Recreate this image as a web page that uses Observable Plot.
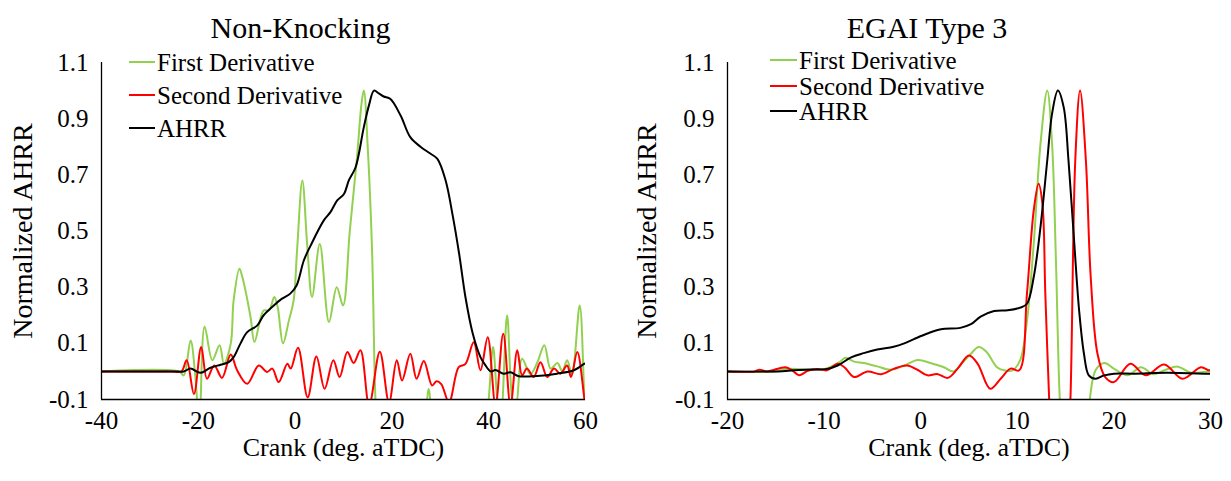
<!DOCTYPE html>
<html>
<head>
<meta charset="utf-8">
<script src="https://cdn.jsdelivr.net/npm/d3@7"></script>
<script src="https://cdn.jsdelivr.net/npm/@observablehq/plot@0.6"></script>
<style>
  html, body { margin: 0; padding: 0; background: #fff; }
  #wrap { position: relative; width: 1231px; height: 481px; display: flex; font-family: "Liberation Serif", "Times New Roman", serif; }
  .leg { position: absolute; height: 25px; display: flex; align-items: center; font-size: 25px; line-height: 25px; color: #000; white-space: nowrap; }
  .leg span.sw { display: inline-block; height: 2px; margin-right: 2px; }
</style>
</head>
<body>
<div id="wrap"></div>
<script>
// ---------- Data ----------
const seriesNames = ["First Derivative", "Second Derivative", "AHRR"];
const yTicks = [-0.1, 0.1, 0.3, 0.5, 0.7, 0.9, 1.1];
const xLabel = "Crank (deg. aTDC)";
const yLabel = "Normalized AHRR";

// Non-Knocking panel
const nkTicks = [-40, -20, 0, 20, 40, 60];
const nkD1X = [-40, -24, -23.0, -21.6, -20.6, -19.8, -18.7, -17.1, -15.6, -14.7, -13.3, -12.7, -11.5, -10.9, -9.2, -8.4, -6.5, -5.4, -4.3, -3.6, -2.5, -1.3, -0.3, 0.4, 1.5, 2.5, 3.5, 5.1, 7.0, 8.6, 9.9, 11.3, 12.8, 13.7, 14.2, 15.0, 15.9, 16.6, 17.3, 22, 26.6, 27.6, 28.6, 33, 38.8, 40.0, 40.9, 41.8, 42.5, 43.8, 44.9, 45.6, 46.9, 48.6, 50.0, 51.5, 52.8, 54.2, 55.2, 56.2, 57.2, 58.8, 59.8, 60.3];
const nkD1Y = [0, 0, -0.014, 0.11, -0.02, -0.2, 0.16, 0.04, 0.093, 0.027, 0.099, 0.253, 0.366, 0.336, 0.193, 0.105, 0.217, 0.217, 0.265, 0.229, 0.10, 0.18, 0.253, 0.43, 0.68, 0.45, 0.265, 0.454, 0.176, 0.30, 0.235, 0.5, 0.763, 0.95, 1.0, 0.8, 0.43, -0.1, -0.3, -0.4, -0.2, -0.062, -0.2, -0.4, -0.3, -0.1, 0.087, -0.1, -0.16, 0.2, -0.1, -0.13, 0.045, -0.01, 0.03, 0.093, 0.01, 0.03, 0.0, 0.04, -0.01, 0.235, -0.1, -0.2];
const nkD2X = [-40, -25.7, -23.5, -22.4, -20.9, -19.4, -18.2, -16.7, -15.1, -13.3, -12.0, -9.9, -7.5, -5.8, -4.7, -3.4, -1.6, -0.9, 0.6, 2.6, 4.4, 6.1, 7.9, 9.2, 10.8, 12.1, 13.5, 15.3, 17.5, 19.4, 21.0, 22.1, 23.8, 25.1, 26.6, 28.3, 29.2, 30.2, 31.8, 33.8, 35.2, 36.9, 38.3, 39.8, 41.4, 43.0, 44.5, 45.9, 46.9, 47.9, 49.3, 50.7, 52.1, 53.5, 54.8, 56.2, 57.0, 58.3, 59.8, 60.3];
const nkD2Y = [0, 0, 0, 0.04, -0.08, 0.087, -0.026, 0.021, -0.023, 0.06, 0.005, -0.044, 0.021, -0.002, 0.01, -0.038, 0.027, 0.01, 0.084, -0.092, 0.053, -0.062, 0.04, -0.02, 0.069, 0.03, 0.075, -0.12, 0.07, -0.11, 0.04, -0.032, 0.063, -0.026, 0.037, -0.05, -0.035, -0.045, -0.11, 0.015, 0.027, 0.104, 0.004, 0.122, -0.12, 0.134, -0.12, 0.075, -0.014, 0.01, -0.02, 0.033, -0.02, 0.01, -0.008, 0.021, -0.02, 0.069, -0.1, -0.15];
const nkAhrrX = [-40, -25, -23, -21.6, -19.6, -17.5, -15.4, -13.7, -12.7, -11.3, -9.9, -7.8, -6.5, -4.4, -2.7, -1.0, 0.3, 1.8, 3.2, 5.9, 7.3, 8.7, 10.1, 11.1, 12.5, 14.2, 15.3, 16.3, 17.3, 18.3, 19.7, 21.8, 23.8, 25.9, 28.0, 29.4, 31.1, 32.5, 33.9, 35.2, 36.7, 38.3, 39.2, 40.4, 41.4, 43.1, 44.5, 46.2, 50.0, 54.1, 57.6, 59.7, 60];
const nkAhrrY = [0, 0, 0, 0.01, -0.005, 0.013, 0.024, 0.033, 0.051, 0.099, 0.14, 0.164, 0.2, 0.235, 0.259, 0.277, 0.306, 0.395, 0.448, 0.537, 0.567, 0.609, 0.632, 0.68, 0.727, 0.87, 0.95, 1.0, 0.99, 0.979, 0.97, 0.911, 0.834, 0.80, 0.775, 0.757, 0.68, 0.561, 0.418, 0.264, 0.135, 0.051, 0.025, 0.0, 0.005, -0.008, -0.003, -0.017, -0.016, -0.008, 0.004, 0.027, 0.03];

// EGAI Type 3 panel
const egTicks = [-20, -10, 0, 10, 20, 30];
const egD1X = [-20, -15, -14.1, -12, -10, -8.4, -7.8, -6.9, -5.9, -4.5, -3.1, -1.7, -0.3, 1.0, 2.4, 3.4, 4.3, 5.2, 6.0, 6.8, 7.9, 8.6, 9.5, 10.3, 11.0, 11.7, 12.4, 13.1, 13.6, 14.0, 14.4, 14.8, 16.0, 17.2, 17.5, 18.1, 19.0, 20.0, 21.4, 22.8, 24.1, 25.3, 26.6, 28.0, 29.7, 30];
const egD1Y = [0, 0, 0.009, 0.007, 0.008, 0.033, 0.049, 0.035, 0.03, 0.018, 0.006, 0.021, 0.041, 0.03, 0.015, 0.0, 0.03, 0.063, 0.087, 0.07, 0.015, 0.004, 0.004, 0.04, 0.18, 0.455, 0.81, 1.0, 0.81, 0.395, -0.1, -0.3, -0.5, -0.2, -0.1, 0.004, 0.03, 0.01, -0.014, 0.015, -0.01, 0.005, 0.017, -0.005, 0.0, 0.0];
const egD2X = [-20, -17.2, -16.7, -15.9, -14.0, -13.3, -12.6, -11.7, -10.7, -9.7, -8.6, -7.9, -6.9, -5.5, -4.1, -2.8, -1.4, -0.3, 0.7, 1.7, 2.8, 3.8, 5.0, 5.9, 7.2, 8.3, 9.3, 10.2, 11.0, 11.7, 12.2, 12.6, 12.9, 13.3, 13.7, 14.5, 15.1, 15.5, 16.0, 16.5, 17.1, 17.6, 18.3, 19.1, 20.0, 21.7, 23.3, 25.2, 27.1, 29.0, 29.8, 30];
const egD2Y = [0, 0, 0.006, 0, 0.015, 0.004, -0.014, 0.002, 0.009, 0.004, 0.027, 0.015, -0.02, 0, -0.01, 0.009, 0.021, 0.005, -0.014, -0.009, -0.023, 0.009, 0.057, 0.027, -0.062, -0.025, 0.01, 0.004, 0.277, 0.573, 0.668, 0.597, 0.277, -0.1, -0.4, -0.6, -0.4, -0.1, 0.751, 1.0, 0.751, 0.336, 0.063, -0.02, -0.038, 0.027, -0.014, 0.025, -0.026, 0.015, 0.004, 0.004];
const egAhrrX = [-20, -14.8, -13.1, -11.4, -9.7, -8.6, -7.2, -5.9, -4.5, -2.8, -1.7, -0.7, 0.7, 2.1, 4.1, 5.2, 6.2, 7.6, 9.0, 10.3, 11.0, 11.7, 12.4, 13.1, 13.6, 14.2, 14.8, 15.3, 15.9, 16.4, 16.9, 17.4, 18.1, 19.0, 20.0, 22.1, 25.5, 29.7, 30];
const egAhrrY = [0, 0, 0.004, 0.007, 0.009, 0.021, 0.05, 0.065, 0.078, 0.088, 0.1, 0.115, 0.135, 0.15, 0.155, 0.168, 0.195, 0.215, 0.218, 0.227, 0.241, 0.336, 0.514, 0.751, 0.918, 1.0, 0.941, 0.751, 0.455, 0.217, 0.063, -0.014, -0.026, -0.014, -0.008, -0.008, -0.005, -0.008, -0.008];

// ---------- Styling ----------
const FONT = '"Liberation Serif", "Times New Roman", serif';
const colors = ["#92D050", "#FF0000", "#000000"];

const toRows = (xs, ys) => xs.map((x, i) => ({x, y: ys[i]}));

function panel(cfg) {
  const sets = [toRows(cfg.d1x, cfg.d1y), toRows(cfg.d2x, cfg.d2y), toRows(cfg.ax, cfg.ay)];
  return Plot.plot({
    width: cfg.width,
    height: 481,
    marginLeft: cfg.marginLeft,
    marginRight: cfg.marginRight,
    marginTop: 62,
    marginBottom: 82,
    style: {fontFamily: FONT, fontSize: "25px", color: "#000", background: "transparent", overflow: "visible"},
    x: {domain: cfg.xDomain},
    y: {domain: [-0.1, 1.1]},
    marks: [
      Plot.axisY({ticks: yTicks, tickSize: 0, tickPadding: 13, tickFormat: d => d.toFixed(1),
        label: null, fontSize: 25}),
      Plot.axisX({ticks: cfg.ticks, tickSize: 0, tickPadding: 12, tickFormat: d => String(d),
        label: null, fontSize: 25}),
      Plot.text([xLabel], {text: d => d, frameAnchor: "bottom", dy: 48, lineAnchor: "middle",
        textAnchor: "middle", fontSize: 26}),
      Plot.text([yLabel], {text: d => d, frameAnchor: "left", dx: cfg.yLabelDx, rotate: -90,
        lineAnchor: "middle", textAnchor: "middle", fontSize: 28}),
      ...sets.map((rows, i) => Plot.line(rows, {x: "x", y: "y", stroke: colors[i], strokeWidth: 2,
        curve: "catmull-rom", clip: true})),
      Plot.ruleX([cfg.xDomain[0]], {stroke: "#000", strokeWidth: 1.3}),
      Plot.ruleY([-0.1], {stroke: "#000", strokeWidth: 1.3}),
      Plot.text([cfg.title], {text: d => d, frameAnchor: "top", dx: cfg.titleDx, dy: -34,
        fontSize: 30, lineAnchor: "middle", textAnchor: "middle"})
    ]
  });
}

const wrap = document.getElementById("wrap");
wrap.append(panel({
  width: 615, marginLeft: 101, marginRight: 30, xDomain: [-40, 60], ticks: nkTicks,
  title: "Non-Knocking", titleDx: -43, yLabelDx: -78.5,
  d1x: nkD1X, d1y: nkD1Y, d2x: nkD2X, d2y: nkD2Y, ax: nkAhrrX, ay: nkAhrrY
}));
wrap.append(panel({
  width: 616, marginLeft: 112, marginRight: 21, xDomain: [-20, 30], ticks: egTicks,
  title: "EGAI Type 3", titleDx: -42, yLabelDx: -80,
  d1x: egD1X, d1y: egD1Y, d2x: egD2X, d2y: egD2Y, ax: egAhrrX, ay: egAhrrY
}));

// Legends (inside the plot frames, top-left)
function legend(left, centers, swWidth) {
  seriesNames.forEach((name, i) => {
    const item = document.createElement("div");
    item.className = "leg";
    item.style.left = left + "px";
    item.style.top = (centers[i] - 12.5) + "px";
    const sw = document.createElement("span");
    sw.className = "sw";
    sw.style.width = swWidth + "px";
    sw.style.background = colors[i];
    const t = document.createElement("span");
    t.textContent = name;
    item.append(sw, t);
    wrap.append(item);
  });
}
legend(129, [62, 95, 128], 26);
legend(770, [60, 86, 111], 27);
</script>
</body>
</html>
